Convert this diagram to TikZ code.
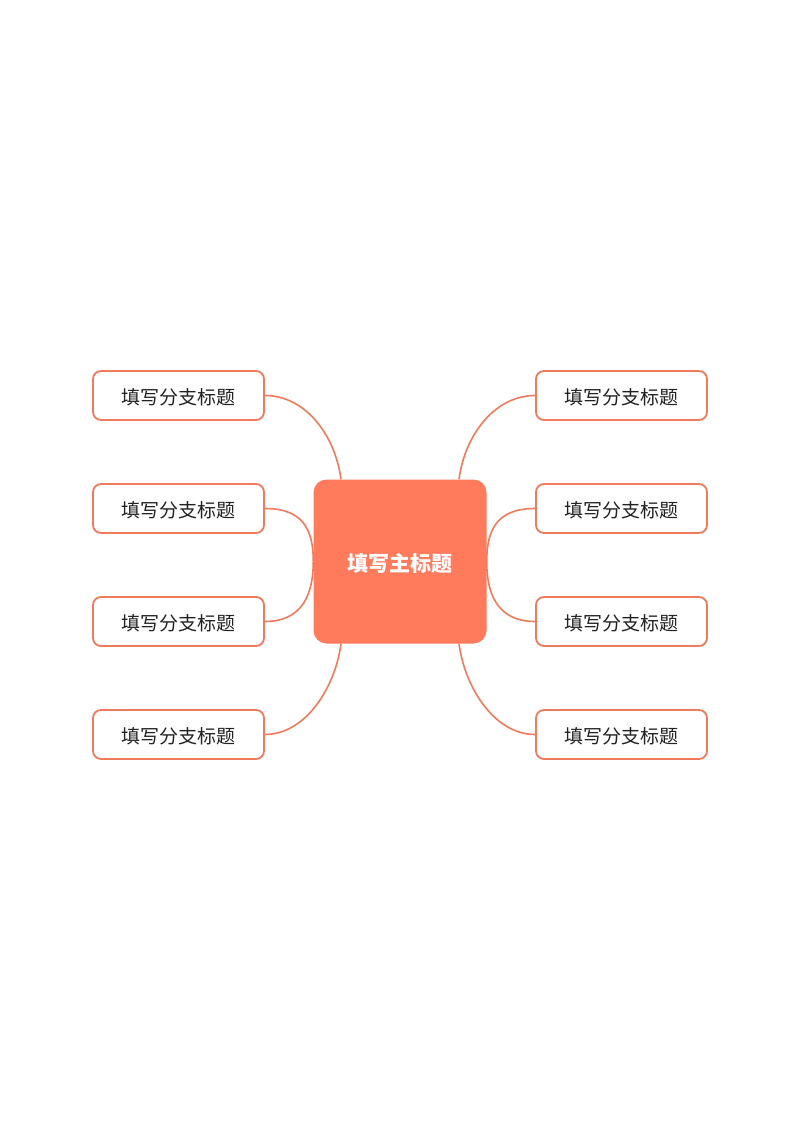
\documentclass[tikz,border=0pt]{standalone}
\usepackage{fontspec}
\newfontfamily\cjk{Noto Sans CJK SC}
\usetikzlibrary{calc}
\definecolor{mainfill}{HTML}{FF7B5C}
\definecolor{lineor}{HTML}{EF7A5C}
\definecolor{txt}{HTML}{222222}
\tikzset{
  branch/.style={draw=lineor, line width=1.8pt, fill=white, rounded corners=8pt,
    minimum width=171pt, minimum height=49pt, inner sep=0pt,
    text height=18pt, text depth=0pt,
    font=\cjk\fontsize{19}{22}\selectfont, text=txt},
  central/.style={fill=mainfill, rounded corners=13pt, minimum width=173pt,
    minimum height=164pt, inner sep=0pt,
    text height=20pt, text depth=0pt,
    font=\cjk\bfseries\fontsize{21}{25}\selectfont, text=white},
  conn/.style={draw=lineor, line width=1.6pt}
}
\begin{document}
\begin{tikzpicture}[x=1pt,y=-1pt]
\useasboundingbox (0,0) rectangle (800,1131);
\node[central] (c) at (400,561.5) {填写主标题};
\node[branch] (l1) at (178.5,395.5) {填写分支标题};
\node[branch] (l2) at (178.5,508.5) {填写分支标题};
\node[branch] (l3) at (178.5,621.5) {填写分支标题};
\node[branch] (l4) at (178.5,734.5) {填写分支标题};
\node[branch] (r1) at (621.5,395.5) {填写分支标题};
\node[branch] (r2) at (621.5,508.5) {填写分支标题};
\node[branch] (r3) at (621.5,621.5) {填写分支标题};
\node[branch] (r4) at (621.5,734.5) {填写分支标题};
\coordinate (ctl) at ($(c.north)+(-59,0)$);
\coordinate (ctr) at ($(c.north)+(59,0)$);
\coordinate (cbl) at ($(c.south)+(-59,0)$);
\coordinate (cbr) at ($(c.south)+(59,0)$);
\draw[conn] (l1.east) .. controls +(40,0) and +(-6,-45) .. (ctl);
\draw[conn] (l2.east) .. controls +(38,0) and +(0,-32) .. (c.west);
\draw[conn] (l3.east) .. controls +(38,0) and +(0,32) .. (c.west);
\draw[conn] (l4.east) .. controls +(40,0) and +(-6,45) .. (cbl);
\draw[conn] (r1.west) .. controls +(-40,0) and +(6,-45) .. (ctr);
\draw[conn] (r2.west) .. controls +(-38,0) and +(0,-32) .. (c.east);
\draw[conn] (r3.west) .. controls +(-38,0) and +(0,32) .. (c.east);
\draw[conn] (r4.west) .. controls +(-40,0) and +(6,45) .. (cbr);
\end{tikzpicture}
\end{document}
